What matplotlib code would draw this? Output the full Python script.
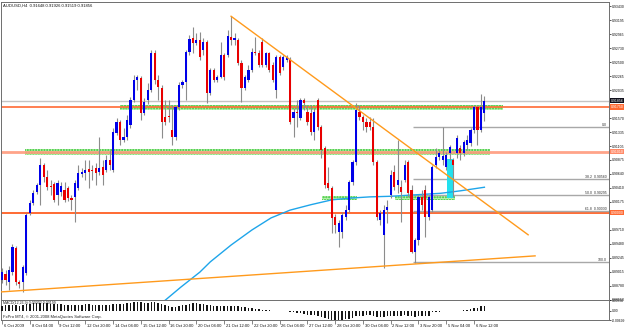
import matplotlib
matplotlib.use("Agg")
import matplotlib.pyplot as plt
from matplotlib.patches import Rectangle

# ---------------- data ----------------
header = "AUDUSD,H4  0.91648 0.91926 0.91519 0.91856"

opens = [
    .8888, .8898, .8885, .8901, .8941, .8885, .8885, .8900, .8999, .9016,
    .9034, .9046, .9079, .9059, .9044, .9047, .9029, .9034, .9037, .9041,
    .9024, .9026, .9041, .9064, .9066, .9072, .9071, .9074, .9067, .9076,
    .9071, .9087, .9071, .9132, .9150, .9120, .9125, .9145, .9187, .9220,
    .9223, .9165, .9187, .9204, .9265, .9220, .9207, .9159, .9160, .9137,
    .9125, .9175, .9212, .9217, .9267, .9290, .9282, .9287, .9270, .9283,
    .9199, .9237, .9220, .9225, .9262, .9262, .9292, .9287, .9287, .9248,
    .9207, .9220, .9237, .9267, .9265, .9283, .9245, .9265, .9245, .9204,
    .9258, .9242, .9253, .9253, .9157, .9167, .9157, .9187, .9167, .9165,
    .9134, .9187, .9142, .9107, .9049, .9041, .8993, .8968, .8968, .8993,
    .9004, .9051, .9084, .9167, .9159, .9150, .9150, .9142, .9084, .8988,
    .8963, .9004, .9029, .9067, .9046, .9042, .9054, .9084, .9037, .8934,
    .8954, .9026, .9037, .8993, .9004, .9079, .9092, .9087, .9076, .9099,
    .9087, .9099, .9107, .9099, .9112, .9115, .9137, .9175, .9137, .9165,
]
closes = [
    .8901, .8888, .8905, .8943, .8885, .8881, .8910, .8996, .9016, .9032,
    .9046, .9079, .9059, .9042, .9042, .9021, .9049, .9044, .9021, .9024,
    .9021, .9049, .9066, .9067, .9071, .9067, .9069, .9066, .9074, .9062,
    .9087, .9079, .9134, .9150, .9120, .9125, .9154, .9187, .9220, .9225,
    .9165, .9184, .9204, .9265, .9220, .9208, .9150, .9150, .9159, .9125,
    .9175, .9212, .9217, .9267, .9288, .9282, .9287, .9258, .9283, .9199,
    .9237, .9220, .9225, .9262, .9225, .9293, .9287, .9290, .9248, .9207,
    .9225, .9237, .9267, .9265, .9245, .9245, .9265, .9237, .9220, .9258,
    .9232, .9258, .9258, .9150, .9167, .9165, .9187, .9182, .9150, .9134,
    .9167, .9142, .9104, .9046, .9041, .8991, .8979, .8983, .8996, .9004,
    .9051, .9084, .9170, .9159, .9150, .9142, .9142, .9084, .8993, .8999,
    .9004, .9009, .9062, .9042, .9054, .9034, .9079, .9032, .8934, .8954,
    .9026, .9013, .8993, .9026, .9076, .9092, .9099, .9094, .9096, .9109,
    .9079, .9124, .9099, .9117, .9120, .9137, .9175, .9137, .9175, .9186,
]
highs = [
    .8908, .8905, .8911, .8948, .8944, .8888, .8913, .8999, .9021, .9037,
    .9049, .9091, .9082, .9071, .9054, .9051, .9054, .9051, .9051, .9044,
    .9029, .9054, .9079, .9074, .9087, .9087, .9079, .9082, .9125, .9087,
    .9096, .9104, .9140, .9157, .9154, .9140, .9162, .9192, .9228, .9228,
    .9227, .9190, .9215, .9270, .9270, .9228, .9212, .9187, .9187, .9179,
    .9179, .9217, .9220, .9270, .9295, .9308, .9298, .9300, .9290, .9287,
    .9240, .9240, .9228, .9283, .9265, .9303, .9326, .9298, .9290, .9253,
    .9228, .9245, .9273, .9292, .9270, .9290, .9267, .9267, .9250, .9262,
    .9262, .9262, .9262, .9258, .9174, .9187, .9190, .9190, .9179, .9179,
    .9174, .9190, .9145, .9110, .9076, .9044, .8998, .8988, .9001, .9013,
    .9054, .9087, .9182, .9179, .9162, .9157, .9159, .9157, .9087, .9004,
    .9013, .9021, .9071, .9079, .9120, .9054, .9087, .9087, .9046, .8958,
    .9029, .9037, .9046, .9029, .9079, .9107, .9104, .9142, .9101, .9112,
    .9091, .9129, .9112, .9120, .9129, .9140, .9179, .9179, .9197, .9193,
]
lows = [
    .8883, .8880, .8871, .8896, .8880, .8875, .8868, .8896, .8996, .9013,
    .9031, .9013, .9051, .9037, .9029, .9018, .9013, .9027, .9018, .9019,
    .9004, .8984, .9037, .9059, .9054, .9041, .9054, .9046, .9062, .9046,
    .9067, .9071, .9067, .9129, .9112, .9117, .9120, .9140, .9184, .9204,
    .9154, .9162, .9180, .9200, .9213, .9187, .9124, .9145, .9150, .9112,
    .9120, .9170, .9207, .9187, .9262, .9265, .9278, .9253, .9262, .9182,
    .9195, .9217, .9217, .9223, .9220, .9258, .9278, .9278, .9245, .9184,
    .9204, .9217, .9233, .9262, .9242, .9242, .9242, .9233, .9217, .9190,
    .9228, .9237, .9250, .9147, .9125, .9142, .9154, .9170, .9145, .9129,
    .9120, .9137, .9091, .9041, .9037, .8966, .8966, .8943, .8958, .8988,
    .9001, .9046, .9079, .9154, .9137, .9134, .9137, .9079, .8988, .8979,
    .8908, .8983, .9024, .9037, .9032, .8984, .9051, .9026, .8933, .8916,
    .8946, .9004, .8959, .8988, .9001, .9074, .9087, .9079, .9071, .9087,
    .9026, .9091, .9087, .9094, .9104, .9110, .9132, .9112, .9134, .9152,
]

# moving average (read at sparse bars)
ma_bar = [45.5, 51.5, 57, 60, 66, 72, 77.5, 83, 89, 95, 100.5, 106, 112, 118, 126.5, 132, 139]
ma_val = [.8847, .8876, .8901, .8918, .8946, .8971, .8991, .9004, .9013, .9021,
          .9024, .9026, .9027, .9029, .9032, .9036, .9042]

# MACD histogram (x 1e-3)
macd_milli = [
    4.0, 4.2, 4.3, 4.6, 4.4, 4.1, 4.2, 5.0, 5.5, 5.8,
    6.0, 6.2, 6.0, 5.8, 5.6, 5.3, 5.2, 5.0, 4.8, 4.6,
    4.5, 4.6, 4.8, 4.9, 5.0, 5.0, 4.9, 4.8, 4.9, 4.8,
    4.9, 4.9, 5.3, 5.6, 5.5, 5.5, 5.7, 6.2, 6.8, 7.0,
    6.5, 6.3, 6.2, 6.8, 6.5, 6.0, 5.2, 4.5, 3.8, 3.2,
    3.3, 3.8, 4.2, 4.9, 5.5, 5.8, 5.9, 5.6, 5.4, 4.6,
    4.4, 4.1, 3.9, 4.0, 3.8, 4.0, 4.1, 4.0, 3.6, 3.0,
    2.8, 2.4, 2.0, 1.6, 1.2, 0.9, 0.6, 0.4, 0.3, 0.2,
    0.2, 0.1, 0.1, -0.5, -1.0, -1.5, -2.0, -2.5, -2.9, -3.3,
    -3.5, -3.9, -4.6, -5.6, -6.2, -6.8, -7.0, -7.0, -6.8, -6.6,
    -6.0, -5.4, -4.3, -3.8, -3.6, -3.4, -3.3, -3.8, -4.5, -4.6,
    -4.5, -4.3, -4.0, -3.8, -3.6, -3.6, -3.4, -3.6, -4.3, -4.6,
    -4.2, -4.0, -4.1, -3.8, -1.0, -0.8, -0.5, -0.3, -0.2, -0.1,
    0.1, 0.2, 0.3, 0.5, 0.8, 1.2, 2.0, 2.6, 3.4, 4.0,
]
macd_label = "MACD(12,26,9) 0.00302 0.00199"
macd_ticks = [0.00836, 0.0, -0.00699]
macd_tick_labels = ["0.00836", "0.00", "-0.00699"]

bid_price = 0.91856
level_top = 0.91750
level_mid = 0.91010
level_low = 0.90000

trend_down_bar = [66, 151.6]
trend_down_px = [0.9326, 0.8963]
trend_up_bar = [-0.6, 153.6]
trend_up_px = [0.8868, 0.8928]

fib_start_bar = 118.5
fib_high = 0.9142
fib_low = 0.8917
fib_pcts = [0.0, 38.2, 50.0, 61.8, 100.0]

# zones: (bar from, bar to, price low, price high)
green_zones = [(34.0, 144.4, 0.9170, 0.9179),
               (6.6, 140.6, 0.9096, 0.9105),
               (92.2, 102.3, 0.9021, 0.9027),
               (113.3, 130.5, 0.9021, 0.9027)]
cyan_zone = (128.2, 130.3, 0.9024, 0.9089)

price_ticks = [0.93430, 0.93195, 0.92965, 0.92730, 0.92500, 0.92265, 0.92035,
               0.91570, 0.91335, 0.91105, 0.90875, 0.90640, 0.90410, 0.90175,
               0.89710, 0.89480, 0.89245, 0.89015, 0.88780, 0.88550]

date_labels = ["6 Oct 2009", "8 Oct 04:00", "9 Oct 12:00", "12 Oct 20:00", "14 Oct 04:00",
               "15 Oct 12:00", "16 Oct 20:00", "20 Oct 04:00", "21 Oct 12:00", "22 Oct 20:00",
               "26 Oct 04:00", "27 Oct 12:00", "28 Oct 20:00", "30 Oct 04:00", "2 Nov 12:00",
               "3 Nov 20:00", "5 Nov 04:00", "6 Nov 12:00"]
date_bars = [0, 8, 16, 24, 32, 40, 48, 56, 64, 72, 80, 88, 96, 104, 112, 120, 128, 136]

copyright_txt = "FxPro MT4, \u00a9 2001-2008 MetaQuotes Software Corp."

# ---------------- drawing ----------------
plt.rcParams['font.family'] = ['Liberation Sans', 'DejaVu Sans']
W, H = 625, 330
fig = plt.figure(figsize=(W / 100, H / 100), dpi=100)
fig.patch.set_facecolor('white')


def rect(x0, y0, x1, y1):
    return [x0 / W, 1 - y1 / H, (x1 - x0) / W, (y1 - y0) / H]


ax = fig.add_axes(rect(1, 2, 609, 300))
sub = fig.add_axes(rect(1, 300, 609, 320))

XMIN, XMAX = -0.3, 174.9
ax.set_xlim(XMIN, XMAX)
sub.set_xlim(XMIN, XMAX)
ax.set_ylim(0.88547, 0.93497)

n = len(opens)
idx = list(range(n))

# horizontal levels
ax.axhline(bid_price, color='#c4c4c4', lw=1.0, zorder=1)
for (b0, b1, p0, p1) in green_zones:
    ax.add_patch(Rectangle((b0, p0), b1 - b0, p1 - p0, facecolor='#b8f2ae',
                           edgecolor='#34c234', hatch='......', lw=0, zorder=1.3))
ax.axhline(level_mid, color='#ff9a7c', lw=2.0, zorder=1.4, alpha=0.9)
ax.axhline(level_top, color='#ff6a33', lw=1.2, zorder=1.5)
ax.axhline(level_low, color='#ff6a33', lw=1.4, zorder=1.5)

# fibonacci
rng = fib_high - fib_low
for pct in fib_pcts:
    lvl = fib_high - pct / 100.0 * rng
    ax.hlines(lvl, fib_start_bar, XMAX, color='#a8a8a8', lw=1.0, zorder=1.6)
    if pct in (0.0, 100.0):
        txt = f"{pct:.1f}"
    else:
        txt = f"{pct:.1f}  {lvl:.5f}"
    ax.text(XMAX - 0.6, lvl + 0.00004, txt, fontsize=2.5, ha='right', va='bottom',
            color='#303030', zorder=6)

# cyan box
cb0, cb1, cp0, cp1 = cyan_zone
ax.add_patch(Rectangle((cb0, cp0), cb1 - cb0, cp1 - cp0, facecolor='#22e0ee',
                       edgecolor='none', zorder=2))

# MA line
ax.plot(ma_bar, ma_val, color='#1ea5ea', lw=1.0, zorder=2.5)

# trend lines
ax.plot(trend_down_bar, trend_down_px, color='#ff9a1c', lw=1.0, zorder=5)
ax.plot(trend_up_bar, trend_up_px, color='#ff9a1c', lw=1.0, zorder=5)

# candles
ax.vlines(idx, lows, highs, colors='#8c8c8c', linewidth=0.8, zorder=3)
bottoms = [min(o, c) for o, c in zip(opens, closes)]
heights = [max(abs(c - o), 0.00015) for o, c in zip(opens, closes)]
colors = ['#0000e8' if c >= o else '#e80000' for o, c in zip(opens, closes)]
ax.bar(idx, heights, bottom=bottoms, width=0.62, color=colors, linewidth=0, zorder=4)

# axes styling
for a in (ax, sub):
    for s in a.spines.values():
        s.set_color('#6e6e6e')
        s.set_linewidth(0.7)
ax.tick_params(axis='x', bottom=False, labelbottom=False)
ax.yaxis.tick_right()
ax.set_yticks(price_ticks)
ax.set_yticklabels([f"{t:.5f}" for t in price_ticks])
ax.tick_params(axis='y', length=1.5, width=0.5, pad=0.6, labelsize=2.55, colors='#111111')

# price tags
def tag(a, y, text, bg, fg='white'):
    a.text(1.003, y, text, transform=a.get_yaxis_transform(), ha='left', va='center',
           fontsize=2.55, color=fg, clip_on=False, zorder=10,
           bbox=dict(boxstyle='square,pad=0.2', fc=bg, ec='none'))

tag(ax, bid_price, f"{bid_price:.5f}", '#10101c')
tag(ax, level_top, f"{level_top:.5f}", '#ff6a33')
tag(ax, level_mid, f"{level_mid:.5f}", '#ff8a68')
tag(ax, level_low, f"{level_low:.5f}", '#ff6a33')

# header
fig.text(3 / W, 1 - 6 / H, header, fontsize=3.0, ha='left', va='center', color='#111111')

# MACD sub-window
macd = [v / 1000.0 for v in macd_milli]
sub.set_ylim(-0.00699, 0.00836)
sub.bar(idx, macd, width=0.42, color='#151515', linewidth=0, zorder=3)
sub.yaxis.tick_right()
sub.set_yticks(macd_ticks)
sub.set_yticklabels(macd_tick_labels)
sub.tick_params(axis='y', length=1.5, width=0.5, pad=0.6, labelsize=2.4, colors='#111111')
sub.set_xticks(date_bars)
sub.set_xticklabels([])
sub.tick_params(axis='x', length=3, width=0.5, direction='out', colors='#555555')
for b, lab in zip(date_bars, date_labels):
    sub.text(b + 0.5, -0.3, lab, transform=sub.get_xaxis_transform(), fontsize=3.0,
             ha='left', va='center', color='#111111', clip_on=False)
sub.text(0.004, 0.93, macd_label, transform=sub.transAxes, fontsize=2.6,
         ha='left', va='top', color='#222222', zorder=5)
sub.text(0.004, 0.06, copyright_txt, transform=sub.transAxes, fontsize=3.0,
         ha='left', va='bottom', color='#222222', zorder=5)

fig.savefig("out.png", dpi=100, facecolor='white')
